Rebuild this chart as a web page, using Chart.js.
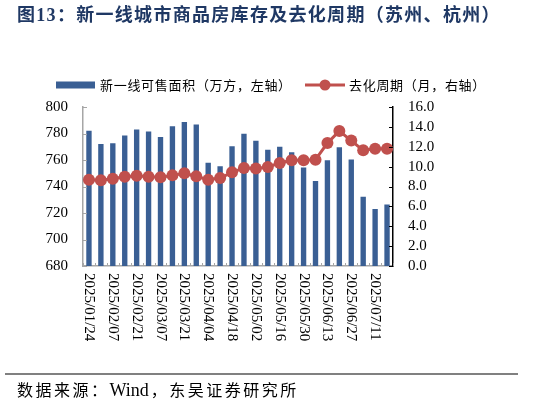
<!DOCTYPE html>
<html><head><meta charset="utf-8">
<script src="https://cdn.jsdelivr.net/npm/chart.js@4"></script>
<style>
html,body{margin:0;padding:0;background:#fff;}
#wrap{position:relative;width:541px;height:406px;overflow:hidden;background:#fff;}
#c{position:absolute;left:0;top:0;}
#title{position:absolute;left:17px;top:3px;font:bold 18px "Liberation Serif","Noto Sans CJK SC";line-height:24px;color:#1F3864;letter-spacing:1.3px;white-space:nowrap;}
#rule{position:absolute;left:5px;top:373px;width:513px;height:2px;background:#808080;}
#src{position:absolute;left:17px;top:379px;font:16px "Liberation Serif","Noto Sans CJK SC";line-height:22px;letter-spacing:2.5px;color:#000;white-space:nowrap;}
#src span{letter-spacing:0;font-size:18px;margin-right:2px;}
</style></head>
<body>
<div id="wrap">
<canvas id="c" width="541" height="406" style="width:541px;height:406px"></canvas>
<div id="title">图13：新一线城市商品房库存及去化周期（苏州、杭州）</div>
<div id="rule"></div>
<div id="src">数据来源：<span>Wind</span>，东吴证券研究所</div>
</div>
<script>
const dates = ["2025/01/24","2025/01/31","2025/02/07","2025/02/14","2025/02/21","2025/02/28","2025/03/07","2025/03/14","2025/03/21","2025/03/28","2025/04/04","2025/04/11","2025/04/18","2025/04/25","2025/05/02","2025/05/09","2025/05/16","2025/05/23","2025/05/30","2025/06/06","2025/06/13","2025/06/20","2025/06/27","2025/07/04","2025/07/11","2025/07/18"];
const inventory = [782, 772, 772.6, 778.4, 783, 781.6, 777.4, 785.4, 788.7, 786.7, 758, 755.2, 770.3, 779.9, 774.6, 767.8, 770, 765.8, 754.3, 744.2, 759.9, 769.6, 760.4, 732.3, 723, 726.5];
const cycle = [8.69, 8.62, 8.79, 8.99, 9.09, 8.99, 8.92, 9.12, 9.33, 9.02, 8.69, 8.85, 9.43, 9.86, 9.80, 9.96, 10.36, 10.63, 10.63, 10.70, 12.37, 13.58, 12.62, 11.64, 11.81, 11.81];
const seriesNames = ["新一线可售面积（万方，左轴）", "去化周期（月，右轴）"];
const barColor = "#3A5F94";
const lineColor = "#C0504D";

const decor = {
  id: 'decor',
  afterDraw(chart) {
    const ctx = chart.ctx;
    const xs = chart.scales.x, y = chart.scales.y, y1 = chart.scales.y1;
    const ca = chart.chartArea;
    ctx.save();
    ctx.lineWidth = 1;
    ctx.strokeStyle = '#A6A6A6';
    y.ticks.forEach(t => {
      const py = Math.round(y.getPixelForValue(t.value)) + 0.5;
      ctx.beginPath(); ctx.moveTo(ca.left, py); ctx.lineTo(ca.left + 4, py); ctx.stroke();
    });
    ctx.strokeStyle = '#000';
    y1.ticks.forEach(t => {
      const py = Math.round(y1.getPixelForValue(t.value)) + 0.5;
      ctx.beginPath(); ctx.moveTo(ca.right - 4, py); ctx.lineTo(ca.right, py); ctx.stroke();
    });
    ctx.strokeStyle = '#A6A6A6';
    const n = dates.length;
    const step = xs.getPixelForValue(1) - xs.getPixelForValue(0);
    for (let i = 0; i <= n; i++) {
      let px;
      if (i === 0) px = xs.getPixelForValue(0) - step / 2;
      else if (i === n) px = xs.getPixelForValue(n - 1) + step / 2;
      else px = (xs.getPixelForValue(i - 1) + xs.getPixelForValue(i)) / 2;
      px = Math.round(px) + 0.5;
      ctx.beginPath(); ctx.moveTo(px, ca.bottom); ctx.lineTo(px, ca.bottom - 3); ctx.stroke();
    }
    ctx.fillStyle = '#000';
    ctx.font = '15px "Liberation Serif"';
    ctx.textAlign = 'left';
    ctx.textBaseline = 'middle';
    dates.forEach((d, i) => {
      if (i % 2 !== 0) return;
      ctx.save();
      ctx.translate(xs.getPixelForValue(i), ca.bottom + 7);
      ctx.rotate(Math.PI / 2);
      ctx.fillText(d, 0, 0);
      ctx.restore();
    });
    const ly = 85;
    ctx.fillStyle = chart.data.datasets[1].backgroundColor;
    ctx.fillRect(56, ly - 3.5, 39, 7);
    ctx.fillStyle = '#000';
    ctx.font = '13px "Noto Sans CJK SC"';
    if ('letterSpacing' in ctx) ctx.letterSpacing = '0.7px';
    ctx.fillText(chart.data.datasets[1].label, 100, ly);
    ctx.strokeStyle = chart.data.datasets[0].borderColor;
    ctx.lineWidth = 3;
    ctx.beginPath(); ctx.moveTo(305, ly); ctx.lineTo(345, ly); ctx.stroke();
    ctx.fillStyle = chart.data.datasets[0].borderColor;
    ctx.beginPath(); ctx.arc(325, ly, 5.5, 0, Math.PI * 2); ctx.fill();
    ctx.fillStyle = '#000';
    ctx.fillText(chart.data.datasets[0].label, 349, ly);
    ctx.restore();
  }
};

new Chart(document.getElementById('c'), {
  data: {
    labels: dates,
    datasets: [
      { type: 'line', label: seriesNames[1], data: cycle, yAxisID: 'y1', order: 0,
        borderColor: lineColor, backgroundColor: lineColor, borderWidth: 3,
        pointRadius: 6, pointBackgroundColor: lineColor, pointBorderWidth: 0, tension: 0 },
      { type: 'bar', label: seriesNames[0], data: inventory, yAxisID: 'y', order: 1,
        backgroundColor: barColor, barPercentage: 0.45, categoryPercentage: 1.0 }
    ]
  },
  options: {
    responsive: false,
    animation: false,
    layout: { padding: { top: 107, left: 0, right: 0, bottom: 0 } },
    plugins: { legend: { display: false }, title: { display: false }, tooltip: { enabled: false } },
    scales: {
      x: { grid: { display: false, drawTicks: false }, ticks: { display: false },
           border: { color: '#A6A6A6', width: 1.5 }, afterFit: s => { s.height = 140; } },
      y: { position: 'left', min: 680, max: 800,
           ticks: { stepSize: 20, padding: 15, autoSkip: false, color: '#000', font: { family: 'Liberation Serif', size: 15 } },
           grid: { display: false, drawTicks: false }, border: { color: '#A6A6A6', width: 1.5 },
           afterFit: s => { s.width = 83; } },
      y1: { position: 'right', min: 0, max: 16,
           ticks: { stepSize: 2, padding: 15, autoSkip: false, color: '#000', font: { family: 'Liberation Serif', size: 15 },
                    callback: v => Number(v).toFixed(1) },
           grid: { display: false, drawTicks: false }, border: { color: '#000', width: 1.5 },
           afterFit: s => { s.width = 148; } }
    }
  },
  plugins: [decor]
});
</script>
</body></html>
